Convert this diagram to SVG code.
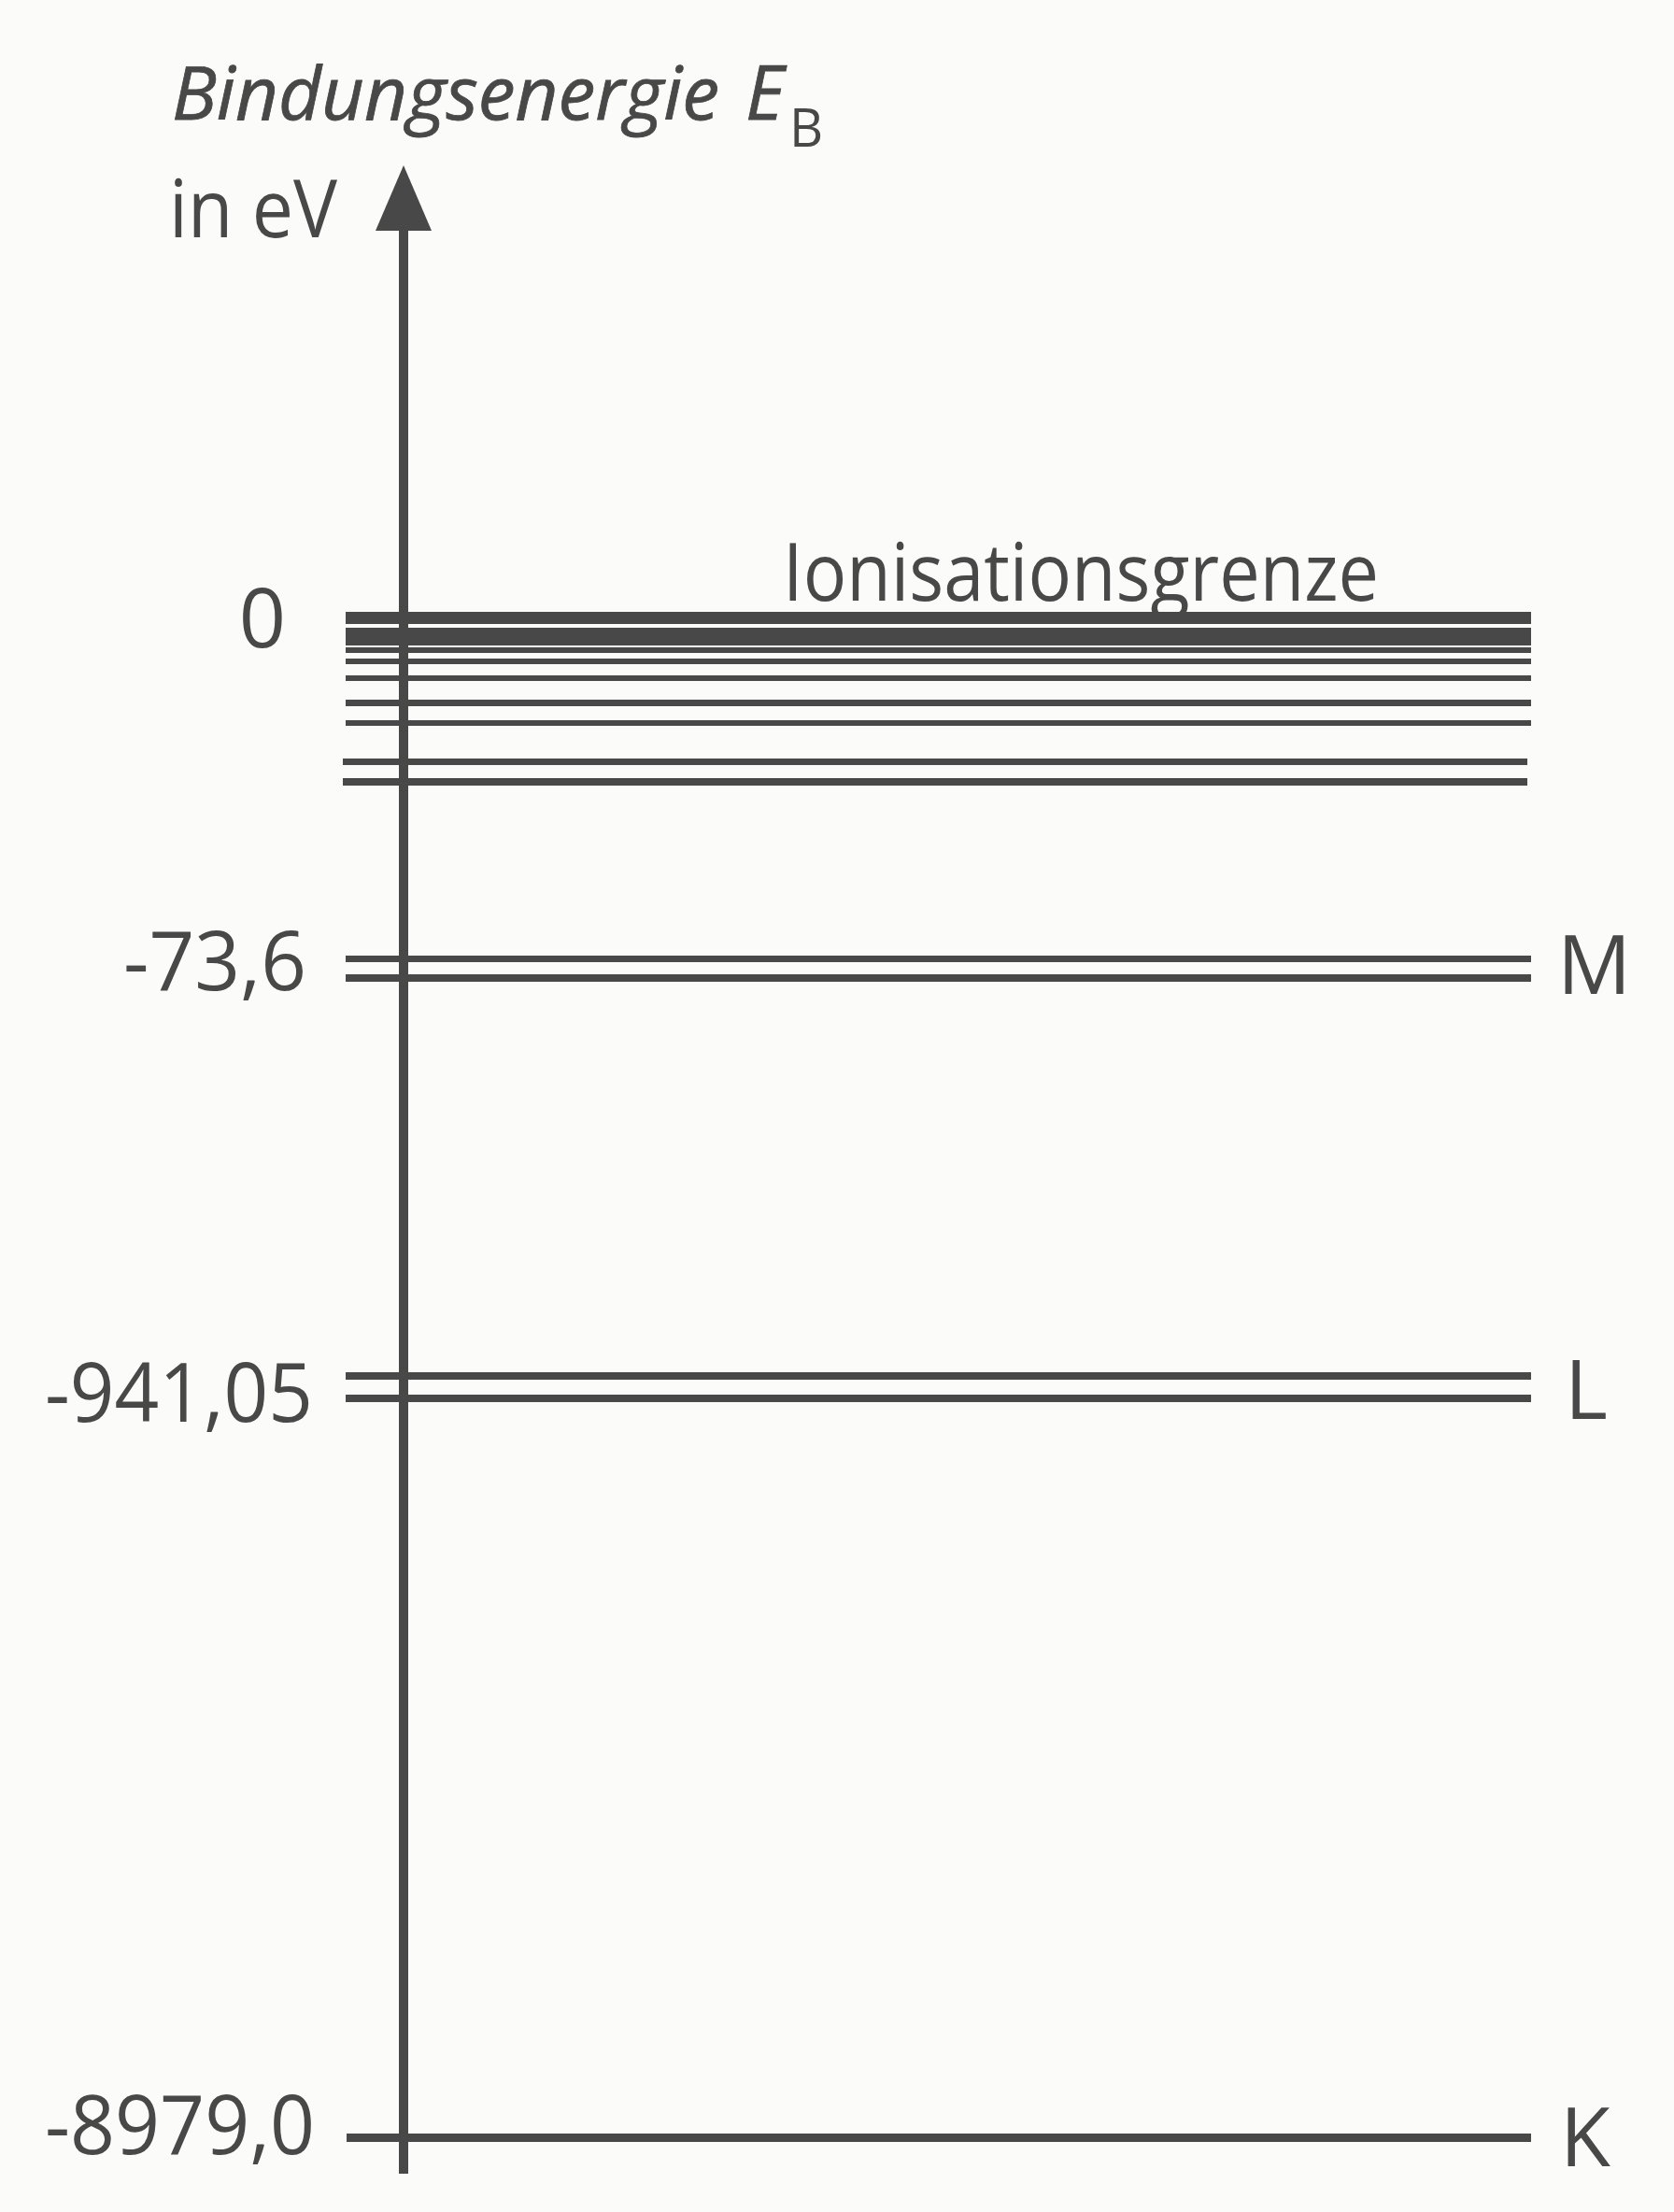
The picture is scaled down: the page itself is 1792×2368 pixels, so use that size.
<svg xmlns="http://www.w3.org/2000/svg" width="1792" height="2368" viewBox="0 0 1792 2368">
  <style>
    .lv { fill: #484848; }
    .t { font-family: "Open Sans", "Noto Sans", "Liberation Sans", sans-serif; fill: #484848; }
    .it { font-style: italic; stroke: #484848; stroke-width: 0.8; }
    .num { font-size: 88px; }
    .lab { font-size: 88px; }
  </style>
  <rect x="0" y="0" width="1792" height="2368" fill="#fbfbf9"/>

  <g id="title">
    <text class="t it" x="184" y="128" font-size="79" textLength="586" lengthAdjust="spacingAndGlyphs">Bindungsenergie</text>
    <text class="t it" x="798" y="128" font-size="80">E</text>
    <text class="t" x="845" y="157" font-size="56">B</text>
    <text class="t" x="181" y="254" font-size="86" textLength="180" lengthAdjust="spacingAndGlyphs">in eV</text>
  </g>

  <g id="connectors">
    <rect class="lv" x="427" y="245" width="10" height="2082"/>
    <polygon class="lv" points="432,177 402,247 462,247"/>
  </g>

  <g id="continuum">
    <rect class="lv" x="370" y="655" width="1269" height="13"/>
    <rect class="lv" x="370" y="672" width="1269" height="19"/>
    <rect class="lv" x="370" y="693" width="1269" height="6"/>
    <rect class="lv" x="370" y="705" width="1269" height="6"/>
    <rect class="lv" x="370" y="723" width="1269" height="6"/>
    <rect class="lv" x="370" y="749" width="1269" height="7"/>
    <rect class="lv" x="370" y="771" width="1269" height="6"/>
    <rect class="lv" x="367" y="812" width="1268" height="7"/>
    <rect class="lv" x="367" y="833" width="1268" height="8"/>
    <text class="t" x="838" y="643" font-size="86" textLength="638" lengthAdjust="spacingAndGlyphs">Ionisationsgrenze</text>
    <text class="t num" x="281" y="693" text-anchor="middle">0</text>
  </g>

  <g id="level-M">
    <rect class="lv" x="370" y="1023" width="1269" height="7"/>
    <rect class="lv" x="370" y="1043" width="1269" height="8"/>
    <text class="t num" x="132" y="1060" textLength="196" lengthAdjust="spacingAndGlyphs">-73,6</text>
    <text class="t lab" x="1667" y="1064">M</text>
  </g>

  <g id="level-L">
    <rect class="lv" x="370" y="1469" width="1269" height="8"/>
    <rect class="lv" x="370" y="1493" width="1269" height="8"/>
    <text class="t num" x="48" y="1522" textLength="287" lengthAdjust="spacingAndGlyphs">-941,05</text>
    <text class="t lab" x="1675" y="1519">L</text>
  </g>

  <g id="level-K">
    <rect class="lv" x="371" y="2284" width="1268" height="9"/>
    <text class="t num" x="48" y="2306" textLength="289" lengthAdjust="spacingAndGlyphs">-8979,0</text>
    <text class="t lab" x="1670" y="2319">K</text>
  </g>
</svg>
